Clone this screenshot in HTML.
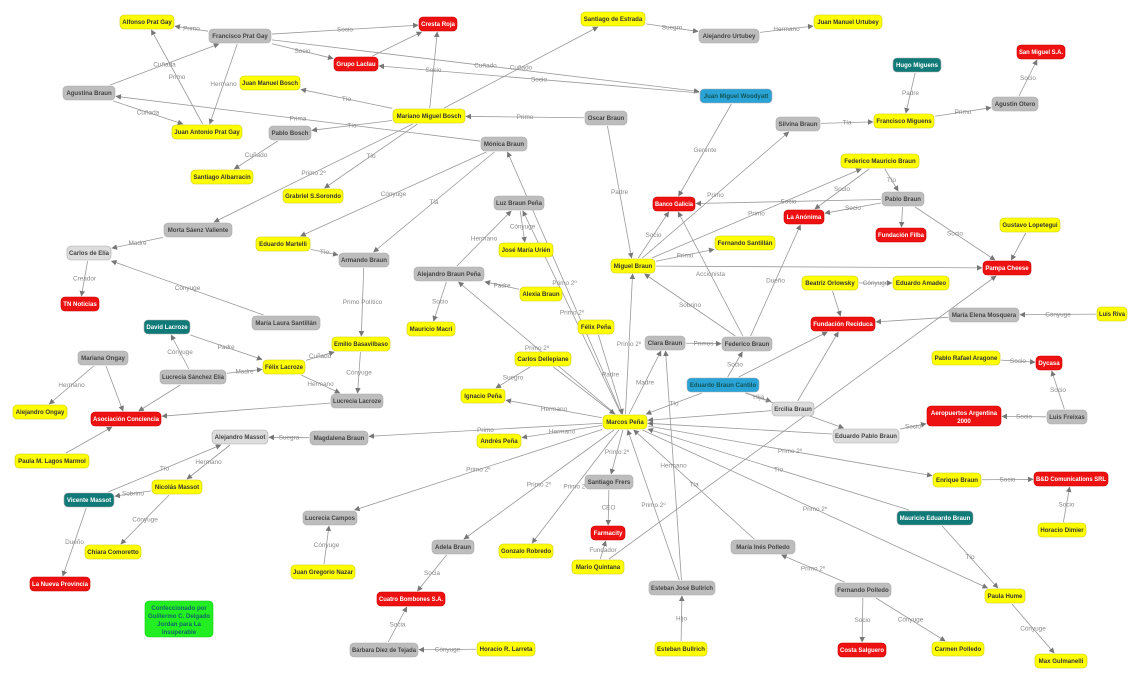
<!DOCTYPE html>
<html><head><meta charset="utf-8"><style>
html,body{margin:0;padding:0;background:#fff;}
svg{display:block;font-family:"Liberation Sans",sans-serif;}
.n{font-size:6.1px;font-weight:bold;}
.l{font-size:6.4px;fill:#888;}
</style></head><body>
<svg id="s" width="1140" height="681" viewBox="0 0 1140 681" xmlns="http://www.w3.org/2000/svg">
<defs><marker id="a" viewBox="0 0 10 10" refX="9" refY="5" markerWidth="7" markerHeight="7" orient="auto"><path d="M0,0L10,5L0,10z" fill="#777"/></marker></defs>
<g id="E"></g><g id="L"></g><g id="N"></g>
</svg>
<script>
var Y='#ffff00',G='#bdbdbd',R='#ee1111',T='#0f7a78',B='#2aa3d6',LG='#dcdcdc';
var N={
"Alfonso Prat Gay":[147,22,54,Y],"Francisco Prat Gay":[240,36,62,G],"Cresta Roja":[438,24,38,R],
"Grupo Laclau":[356,64,44,R],"Santiago de Estrada":[613,19,64,Y],"Alejandro Urtubey":[729,36,60,G],
"Juan Manuel Urtubey":[848,22,68,Y],"Hugo Miguens":[917,65,48,T],"San Miguel S.A.":[1041,52,48,R],
"Agustina Braun":[89,93,52,G],"Juan Manuel Bosch":[270,83,60,Y],"Juan Miguel Woodyatt":[736,96,72,B],
"Agustin Otero":[1015,104,46,G],"Juan Antonio Prat Gay":[207,132,70,Y],"Pablo Bosch":[290,133,42,G],
"Mariano Miguel Bosch":[429,116,72,Y],"Oscar Braun":[606,118,42,G],"Silvina Braun":[798,124,44,G],
"Francisco Miguens":[904,121,60,Y],"Mónica Braun":[504,144,46,G],"Santiago Albarracín":[222,177,62,Y],
"Federico Mauricio Braun":[880,161,78,Y],"Grabriel S.Sorondo":[313,196,60,Y],"Luz Braun Peña":[519,203,50,G],
"Banco Galicia":[674,204,42,R],"Pablo Braun":[903,199,42,G],"La Anónima":[804,217,40,R],
"Morta Sáenz Valiente":[198,230,68,G],"Fundación Filba":[901,235,50,R],"Gustavo Lopetegui":[1030,225,60,Y],
"José María Urién":[526,250,54,Y],"Eduardo Martelli":[283,244,54,Y],"Fernando Santillán":[745,243,60,Y],
"Carlos de Elía":[89,253,44,LG],"Armando Braun":[364,260,50,G],"Miguel Braun":[633,266,44,Y],
"Pampa Cheese":[1007,268,48,R],"Alejandro Braun Peña":[449,274,70,G],"Beatriz Orlowsky":[830,283,56,Y],
"Eduardo Amadeo":[921,283,56,Y],"Alexia Braun":[541,294,42,Y],"TN Noticias":[80,304,38,R],
"María Elena Mosquera":[984,315,70,G],"Luis Riva":[1112,314,30,Y],"Fundación Reciduca":[843,324,64,R],
"María Laura Santillán":[286,323,68,G],"Mauricio Macri":[431,329,48,Y],"Félix Peña":[596,327,36,Y],
"David Lacroze":[167,327,46,T],"Clara Braun":[665,343,40,G],"Federico Braun":[747,344,50,G],
"Emilio Basavilbaso":[361,344,58,Y],"Mariana Ongay":[103,358,50,G],"Félix Lacroze":[284,367,42,Y],
"Lucrecia Sánchez Elía":[193,377,66,G],"Carlos Dellepiane":[543,359,56,Y],"Pablo Rafael Aragone":[966,358,68,Y],
"Dycasa":[1049,363,26,R],"Eduardo Braun Cantilo":[723,385,72,B],"Ignacio Peña":[483,396,44,Y],
"Lucrecia Lacroze":[357,401,52,G],"Ercilia Braun":[793,409,42,LG],"Luis Freixas":[1067,417,40,G],
"Alejandro Ongay":[40,412,54,Y],"Asociación Conciencia":[126,419,70,R],"Aeropuertos Argentina 2000":[964,416,74,R,20],
"Marcos Peña":[625,422,44,Y],"Alejandro Massot":[240,437,56,LG],"Magdalena Braun":[339,438,58,G],
"Andrés Peña":[499,441,44,Y],"Eduardo Pablo Braun":[866,436,66,LG],"Paula M. Lagos Marmol":[52,461,74,Y],
"Nicolás Massot":[177,487,50,Y],"Enrique Braun":[957,480,48,Y],"B&D Comunications SRL":[1071,479,74,R],
"Santiago Frers":[609,482,48,G],"Vicente Massot":[89,500,50,T],"Mauricio Eduardo Braun":[935,518,76,T],
"Lucrecia Campos":[330,518,54,G],"Farmacity":[608,533,34,R],"Adela Braun":[453,547,42,G],
"Gonzalo Robredo":[526,551,54,Y],"Chiara Comoretto":[113,552,56,Y],"María Inés Polledo":[763,547,64,G],
"Horacio Dimier":[1062,530,48,Y],"Juan Gregorio Nazar":[323,572,64,Y],"Mario Quintana":[598,567,52,Y],
"Esteban José Bullrich":[682,588,66,G],"Fernando Polledo":[863,590,56,G],"La Nueva Provincia":[60,584,60,R],
"Cuatro Bombones S.A.":[411,599,68,R],"Paula Hume":[1005,596,40,Y],"Costa Salguero":[862,650,48,R],
"Carmen Polledo":[958,649,52,Y],"Bárbara Diez de Tejada":[384,650,68,G],"Horacio R. Larreta":[506,649,58,Y],
"Esteban Bullrich":[681,649,52,Y],"Max Gulmanelli":[1061,661,52,Y]
};
var E=[
["Francisco Prat Gay","Alfonso Prat Gay","Primo"],["Francisco Prat Gay","Cresta Roja","Socio"],
["Francisco Prat Gay","Grupo Laclau","Socio"],["Francisco Prat Gay","Juan Antonio Prat Gay","Hermano"],
["Francisco Prat Gay","Juan Miguel Woodyatt","Cuñado"],["Juan Miguel Woodyatt","Grupo Laclau","Socio"],
["Agustina Braun","Francisco Prat Gay","Cuñada"],["Agustina Braun","Juan Antonio Prat Gay","Cuñada"],
["Juan Antonio Prat Gay","Alfonso Prat Gay","Primo"],["Mónica Braun","Agustina Braun","Prima"],
["Mariano Miguel Bosch","Juan Manuel Bosch","Tío"],["Mariano Miguel Bosch","Pablo Bosch","Tío"],
["Mariano Miguel Bosch","Cresta Roja","Socio"],["Mariano Miguel Bosch","Grabriel S.Sorondo","Tío"],
["Mariano Miguel Bosch","Morta Sáenz Valiente","Primo 2º"],["Mariano Miguel Bosch","Santiago de Estrada","Cuñado"],
["Grupo Laclau","Cresta Roja",""],["Pablo Bosch","Santiago Albarracín","Cuñado"],
["Oscar Braun","Mariano Miguel Bosch","Primo"],["Oscar Braun","Miguel Braun","Padre"],
["Santiago de Estrada","Alejandro Urtubey","Suegro"],["Alejandro Urtubey","Juan Manuel Urtubey","Hermano"],
["Juan Miguel Woodyatt","Banco Galicia","Gerente"],["Hugo Miguens","Francisco Miguens","Padre"],
["Silvina Braun","Francisco Miguens","Tía"],["Francisco Miguens","Agustin Otero","Primo"],
["Agustin Otero","San Miguel S.A.","Socio"],["Miguel Braun","Silvina Braun","Primo"],
["Miguel Braun","Federico Mauricio Braun","Primo"],["Federico Mauricio Braun","Pablo Braun","Tío"],
["Pablo Braun","Banco Galicia","Socio"],["Federico Mauricio Braun","La Anónima","Socio"],
["Pablo Braun","La Anónima","Socio"],["Pablo Braun","Fundación Filba",""],["Pablo Braun","Pampa Cheese","Socio"],
["Gustavo Lopetegui","Pampa Cheese",""],["Miguel Braun","Pampa Cheese",""],
["Mónica Braun","Eduardo Martelli","Cónyuge"],["Mónica Braun","Armando Braun","Tía"],
["Marcos Peña","Mónica Braun","Primo 2º"],["Miguel Braun","Banco Galicia","Socio"],
["Federico Braun","Banco Galicia","Accionista"],["Miguel Braun","Fernando Santillán","Primo"],
["Federico Braun","Miguel Braun","Sobrino"],["Federico Braun","La Anónima","Dueño"],
["Luz Braun Peña","José María Urién","Cónyuge"],["Alejandro Braun Peña","Luz Braun Peña","Hermano"],
["Marcos Peña","Luz Braun Peña","Primo 2º"],["Alexia Braun","Alejandro Braun Peña","Padre"],
["Alejandro Braun Peña","Mauricio Macri","Socio"],["Marcos Peña","Alejandro Braun Peña","Primo 2º"],
["Eduardo Martelli","Armando Braun","Tío"],["Armando Braun","Emilio Basavilbaso","Primo Político"],
["Morta Sáenz Valiente","Carlos de Elía","Madre"],["Carlos de Elía","TN Noticias","Creador"],
["María Laura Santillán","Carlos de Elía","Cónyuge"],["David Lacroze","Félix Lacroze","Padre"],
["Lucrecia Sánchez Elía","David Lacroze","Cónyuge"],["Lucrecia Sánchez Elía","Félix Lacroze","Madre"],
["Félix Lacroze","Emilio Basavilbaso","Cuñado"],["Félix Lacroze","Lucrecia Lacroze","Hermano"],
["Emilio Basavilbaso","Lucrecia Lacroze","Cónyuge"],["Lucrecia Lacroze","Asociación Conciencia",""],
["Lucrecia Sánchez Elía","Asociación Conciencia",""],["Mariana Ongay","Asociación Conciencia",""],
["Mariana Ongay","Alejandro Ongay","Hermano"],["Paula M. Lagos Marmol","Asociación Conciencia",""],
["Marcos Peña","Magdalena Braun","Primo"],["Magdalena Braun","Alejandro Massot","Suegra"],
["Vicente Massot","Alejandro Massot","Tío"],["Alejandro Massot","Nicolás Massot","Hermano"],
["Nicolás Massot","Vicente Massot","Sobrino"],["Nicolás Massot","Chiara Comoretto","Cónyuge"],
["Vicente Massot","La Nueva Provincia","Dueño"],["Félix Peña","Marcos Peña","Padre"],
["Marcos Peña","Miguel Braun","Primo 2º"],["Carlos Dellepiane","Ignacio Peña","Suegro"],
["Carlos Dellepiane","Marcos Peña",""],["Marcos Peña","Ignacio Peña","Hermano"],
["Marcos Peña","Andrés Peña","Hermano"],["Clara Braun","Federico Braun","Primos"],
["Marcos Peña","Clara Braun","Madre"],["Eduardo Braun Cantilo","Marcos Peña","Tío"],
["Eduardo Braun Cantilo","Federico Braun","Socio"],["Eduardo Braun Cantilo","Ercilia Braun","Hija"],
["Eduardo Braun Cantilo","Eduardo Pablo Braun","Hijo"],["Eduardo Braun Cantilo","Fundación Reciduca",""],
["Ercilia Braun","Fundación Reciduca",""],["Mario Quintana","Pampa Cheese",""],
["Beatriz Orlowsky","Eduardo Amadeo","Cónyuge"],["Beatriz Orlowsky","Fundación Reciduca",""],
["María Elena Mosquera","Fundación Reciduca",""],["Luis Riva","María Elena Mosquera","Cónyuge"],
["Pablo Rafael Aragone","Dycasa","Socio"],["Luis Freixas","Dycasa","Socio"],
["Luis Freixas","Aeropuertos Argentina 2000","Socio"],["Eduardo Pablo Braun","Aeropuertos Argentina 2000","Socio"],
["Marcos Peña","Enrique Braun","Primo 2º"],["Enrique Braun","B&D Comunications SRL","Socio"],
["Horacio Dimier","B&D Comunications SRL","Socio"],["Mauricio Eduardo Braun","Marcos Peña","Tío"],
["Marcos Peña","Paula Hume","Primo 2º"],["Mauricio Eduardo Braun","Paula Hume","Tío"],
["Paula Hume","Max Gulmanelli","Cónyuge"],["Fernando Polledo","María Inés Polledo","Primo 2º"],
["Fernando Polledo","Costa Salguero","Socio"],["Fernando Polledo","Carmen Polledo","Cónyuge"],
["María Inés Polledo","Marcos Peña","Tía"],["Marcos Peña","Santiago Frers","Primo 2º"],
["Santiago Frers","Farmacity","CEO"],["Mario Quintana","Farmacity","Fundador"],
["Marcos Peña","Gonzalo Robredo","Primo 2º"],["Marcos Peña","Adela Braun","Primo 2º"],
["Marcos Peña","Lucrecia Campos","Primo 2º"],["Juan Gregorio Nazar","Lucrecia Campos","Cónyuge"],
["Adela Braun","Cuatro Bombones S.A.","Socia"],["Bárbara Diez de Tejada","Cuatro Bombones S.A.","Socia"],
["Horacio R. Larreta","Bárbara Diez de Tejada","Cónyuge"],["Esteban José Bullrich","Marcos Peña","Primo 2º"],
["Esteban José Bullrich","Clara Braun","Hermano"],["Esteban Bullrich","Esteban José Bullrich","Hijo"],
["Ercilia Braun","Marcos Peña",""],["Eduardo Pablo Braun","Marcos Peña",""]
];
var NS='http://www.w3.org/2000/svg';
function el(t,a,p,tx){var e=document.createElementNS(NS,t);for(var k in a)e.setAttribute(k,a[k]);if(tx!=null)e.textContent=tx;document.getElementById(p).appendChild(e);return e;}
function hh(n){return (n[4]||14)/2;}
function clip(n,dx,dy){var w=n[2]/2+1,h=hh(n)+1;var t=Math.min(dx?w/Math.abs(dx):1e9,dy?h/Math.abs(dy):1e9);return [n[0]+dx*t,n[1]+dy*t];}
E.forEach(function(e){var a=N[e[0]],b=N[e[1]];if(!a||!b)return;var dx=b[0]-a[0],dy=b[1]-a[1];
var p=clip(a,dx,dy),q=clip(b,-dx,-dy);
el('line',{x1:p[0],y1:p[1],x2:q[0],y2:q[1],stroke:'#999','stroke-width':0.8,'marker-end':'url(#a)'},'E');
if(e[2]){el('text',{x:(p[0]+q[0])/2,y:(p[1]+q[1])/2+2,'text-anchor':'middle','class':'l'},'L',e[2]);}});
for(var k in N){var n=N[k],h=hh(n);
el('rect',{x:n[0]-n[2]/2,y:n[1]-h,width:n[2],height:h*2,rx:4,fill:n[3],stroke:n[3]==Y?'#c8c800':(n[3]==R?'#cc0000':'#aaa'),'stroke-width':0.6},'N');
var c=(n[3]==R||n[3]==T)?'#fff':(n[3]==B?'#155':'#444');if(n[3]==Y)c='#333';
var tl=(n[2]-4);
if(k=="Aeropuertos Argentina 2000"){el('text',{x:n[0],y:n[1]-1,'text-anchor':'middle','class':'n',fill:c},'N','Aeropuertos Argentina');el('text',{x:n[0],y:n[1]+7,'text-anchor':'middle','class':'n',fill:c},'N','2000');}
else{var t=el('text',{x:n[0],y:n[1]+2.2,'text-anchor':'middle','class':'n',fill:c},'N',k);
try{if(t.getComputedTextLength()>tl){t.setAttribute('textLength',tl);t.setAttribute('lengthAdjust','spacingAndGlyphs');}}catch(x){}}}
el('rect',{x:145,y:601,width:68,height:36,rx:4,fill:'#22ee22',stroke:'#1c1','stroke-width':0.6},'N');
['Confeccionado por','Guillermo C. Delgado','Jordan para La','Insuperable'].forEach(function(t,i){el('text',{x:179,y:610+i*8,'text-anchor':'middle','class':'n',fill:'#166'},'N',t);});
</script>
</body></html>
